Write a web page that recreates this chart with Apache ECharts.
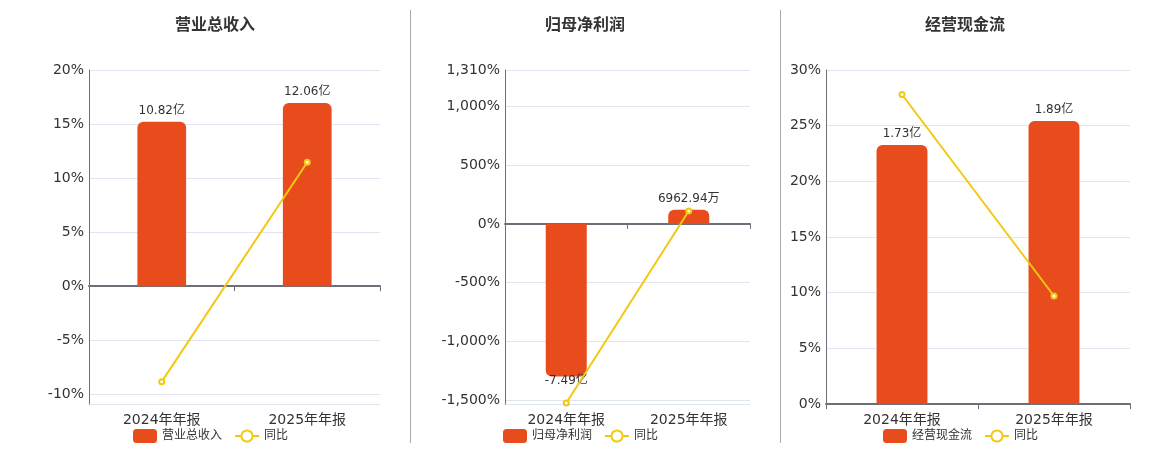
<!DOCTYPE html>
<html>
<head>
<meta charset="utf-8">
<script src="https://cdn.jsdelivr.net/npm/echarts@6/dist/echarts.min.js"></script>
<style>
  html, body { margin: 0; padding: 0; background: #fff; }
  #main { width: 1160px; height: 450px; }
</style>
</head>
<body>
<div id="main"></div>
<script>
// 数据
var categories = ['2024年年报', '2025年年报'];

var titles = ['营业总收入', '归母净利润', '经营现金流'];
var barLabels = [['10.82亿', '12.06亿'], ['-7.49亿', '6962.94万'], ['1.73亿', '1.89亿']];
var revenue = [10.82, 12.06];
var netProfit = [-7.49, 0.696294];
var cashFlow = [1.73, 1.89];
var revenueYoy = [-8.83, 11.46];
var netProfitYoy = [-1525, 109.3];
var cashFlowYoy = [27.8, 9.7];

// 百分比轴刻度
var pctTicks = [[-10, -5, 0, 5, 10, 15, 20], [-1500, -1000, -500, 0, 500, 1000, 1310], [0, 5, 10, 15, 20, 25, 30]];
var pctRange = [[-10.9, 20], [-1533, 1310], [0, 30]];

var barData = [revenue, netProfit, cashFlow];
var yoyData = [revenueYoy, netProfitYoy, cashFlowYoy];

var grids = [
    { left: 89, top: 70, width: 291, height: 334 },
    { left: 505, top: 70, width: 245, height: 334 },
    { left: 826, top: 70, width: 304, height: 334 }
];
var centers = [210, 580, 960];
var legendLeft = [133, 503, 883];

var barColor = '#E84C1D';
var lineColor = '#F2C811';
var font = '"DejaVu Sans", "Noto Sans CJK SC", sans-serif';

function fmtPct(v) {
    return Number(v).toLocaleString('en-US') + '%';
}

var option = {
    animation: false,
    textStyle: { fontFamily: font },
    title: [],
    legend: [],
    grid: [],
    xAxis: [],
    yAxis: [],
    series: [],
    graphic: [
        { type: 'line', shape: { x1: 410.5, y1: 10, x2: 410.5, y2: 443 }, style: { stroke: '#aaa', lineWidth: 1 } },
        { type: 'line', shape: { x1: 780.5, y1: 10, x2: 780.5, y2: 443 }, style: { stroke: '#aaa', lineWidth: 1 } }
    ]
};

for ( var i = 0; i < 3; i++ ) {
    var pr = pctRange[i];
    // 柱子用隐藏轴，按最大柱 * 1.18 与百分比轴零点对齐
    var bars = barData[i];
    var k;
    if ( Math.max.apply(null, bars) > 0 && pr[1] > 0 && Math.abs(Math.min.apply(null, bars)) < Math.max.apply(null, bars) ) {
        k = Math.max.apply(null, bars) * 1.18 / pr[1];
    } else {
        k = Math.abs(Math.min.apply(null, bars)) * 1.18 / Math.abs(pr[0]);
    }

    option.title.push( {
        text: titles[i],
        left: centers[i],
        top: 13,
        textAlign: 'center',
        textStyle: { fontSize: 16, fontWeight: 'bold', color: '#333', fontFamily: font }
    } );

    option.legend.push( {
        data: [
            { name: titles[i], icon: 'roundRect' },
            { name: '同比' }
        ],
        left: legendLeft[i],
        top: 429,
        padding: 0,
        itemWidth: 24,
        itemHeight: 14,
        itemGap: 12,
        textStyle: { fontSize: 12, color: '#333', fontFamily: font }
    } );

    option.grid.push( grids[i] );

    option.xAxis.push( {
        type: 'category',
        gridIndex: i,
        data: categories,
        axisLine: { onZero: true, lineStyle: { color: '#6E7079', width: 2 } },
        axisTick: { show: true, lineStyle: { color: '#6E7079' } },
        axisLabel: { fontSize: 14, color: '#333', margin: 9 },
        position: 'bottom'
    } );

    var labelTicks = pctTicks[i];
    var splitVals = labelTicks.slice();
    if ( pr[0] < labelTicks[0] ) splitVals.unshift(pr[0]);

    option.yAxis.push( {
        type: 'value',
        gridIndex: i,
        min: pr[0],
        max: pr[1],
        axisLine: { show: true, lineStyle: { color: '#6E7079' } },
        axisTick: { show: false, customValues: splitVals },
        axisLabel: { fontSize: 14, color: '#333', margin: 5, customValues: labelTicks, formatter: fmtPct },
        splitLine: { show: true, lineStyle: { color: '#E0E6F1' } }
    } );
    option.yAxis.push( {
        type: 'value',
        gridIndex: i,
        show: false,
        min: pr[0] * k,
        max: pr[1] * k,
        splitLine: { show: false }
    } );

    var bd = bars.map( function( v, j ) {
        var item = { value: v };
        if ( v < 0 ) {
            item.itemStyle = { borderRadius: [0, 0, 6, 6] };
            item.label = { position: 'bottom', distance: -2 };
        }
        return item;
    } );

    option.series.push( {
        name: titles[i],
        type: 'bar',
        xAxisIndex: i,
        yAxisIndex: i * 2 + 1,
        data: bd,
        barWidth: '33.5%',
        itemStyle: { color: barColor, borderRadius: [6, 6, 0, 0] },
        label: {
            show: true,
            position: 'top',
            fontSize: 12,
            color: '#333',
            formatter: ( function( labels ) {
                return function( p ) { return labels[p.dataIndex]; };
            } )( barLabels[i] )
        }
    } );

    option.series.push( {
        name: '同比',
        type: 'line',
        xAxisIndex: i,
        yAxisIndex: i * 2,
        data: yoyData[i],
        symbol: 'emptyCircle',
        symbolSize: 5,
        z: 5,
        itemStyle: { color: lineColor },
        lineStyle: { color: lineColor, width: 2 }
    } );
}

var myChart = echarts.init( document.getElementById( 'main' ) );
myChart.setOption( option );
</script>
</body>
</html>
